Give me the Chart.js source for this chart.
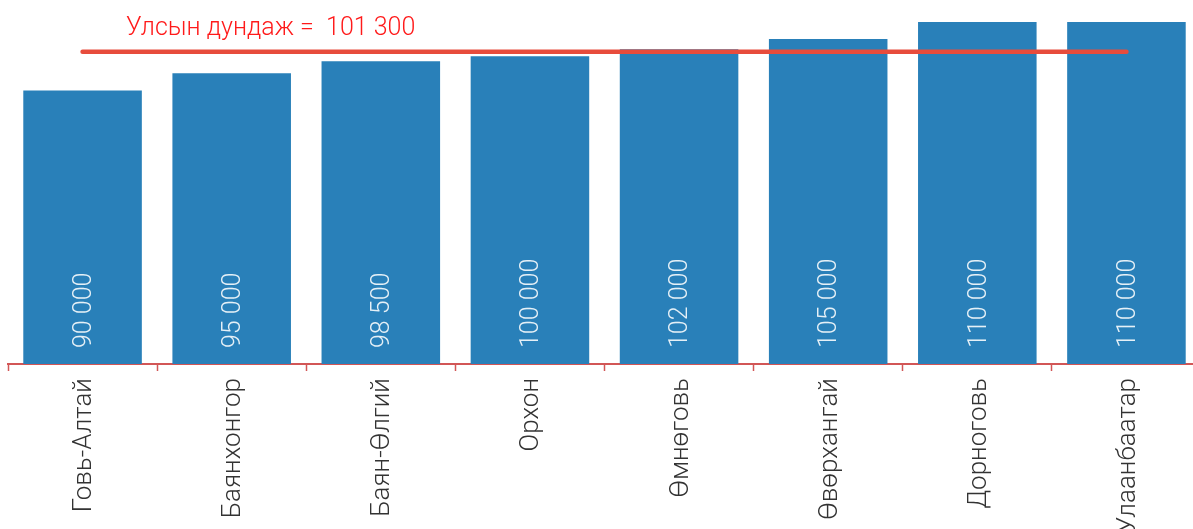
<!DOCTYPE html>
<html>
<head>
<meta charset="utf-8">
<script src="https://cdn.jsdelivr.net/npm/chart.js@4/dist/chart.umd.min.js"></script>
<style>
  html, body { margin: 0; padding: 0; background: #ffffff; overflow: hidden; }
  #wrap { position: relative; width: 1202px; height: 529px; }
</style>
</head>
<body>
<div id="wrap"><canvas id="c"></canvas></div>
<script>
// ---- data ----
const categories = ['Говь-Алтай', 'Баянхонгор', 'Баян-Өлгий', 'Орхон', 'Өмнөговь', 'Өвөрхангай', 'Дорноговь', 'Улаанбаатар'];
const salaryValues = [90000, 95000, 98500, 100000, 102000, 105000, 110000, 110000];
const nationalAverage = 101300;
const averageLabel = 'Улсын дундаж =  ';
const yMin = 10000;
const yMax = 110000;

function fmt(v) {
  return String(v).replace(/\B(?=(\d{3})+(?!\d))/g, ' ');
}

const averageLine = categories.map(() => nationalAverage);

const FONT = 'Roboto, "Noto Sans", sans-serif';

const valueLabelsPlugin = {
  id: 'valueLabels',
  afterDatasetsDraw(chart) {
    const meta = chart.getDatasetMeta(0);
    const ctx = chart.ctx;
    const bottom = chart.scales.y.getPixelForValue(yMin);
    ctx.save();
    ctx.font = '300 25px ' + FONT;
    ctx.fillStyle = 'rgba(255,255,255,0.88)';
    ctx.textAlign = 'left';
    ctx.textBaseline = 'middle';
    meta.data.forEach((bar, i) => {
      ctx.save();
      ctx.translate(bar.x + 2, bottom - 16);
      ctx.rotate(-Math.PI / 2);
      ctx.fillText(fmt(salaryValues[i]), 0, 0);
      ctx.restore();
    });
    ctx.restore();
  }
};

const averageTextPlugin = {
  id: 'averageText',
  afterDraw(chart) {
    const ctx = chart.ctx;
    const area = chart.chartArea;
    ctx.save();
    ctx.font = '300 25px ' + FONT;
    ctx.fillStyle = '#ff1a1a';
    ctx.textAlign = 'left';
    ctx.textBaseline = 'alphabetic';
    ctx.fillText(averageLabel + fmt(nationalAverage), area.left + 118, 34.5);
    ctx.restore();
  }
};

new Chart(document.getElementById('c'), {
  data: {
    labels: categories,
    datasets: [
      {
        type: 'bar',
        data: salaryValues,
        backgroundColor: '#2980b9',
        borderWidth: 0,
        barPercentage: 0.795,
        categoryPercentage: 1,
        order: 1
      },
      {
        type: 'line',
        data: averageLine,
        borderColor: '#e74c3c',
        borderWidth: 4.5,
        borderCapStyle: 'round',
        pointRadius: 0,
        fill: false,
        order: 0
      }
    ]
  },
  options: {
    responsive: true,
    maintainAspectRatio: false,
    animation: false,
    layout: { padding: { top: 22, left: 8, right: 1, bottom: 0 } },
    plugins: {
      legend: { display: false },
      tooltip: { enabled: false },
      title: { display: false }
    },
    scales: {
      x: {
        offset: true,
        border: { display: true, color: '#d25656', width: 2 },
        grid: {
          display: true,
          offset: true,
          drawOnChartArea: false,
          drawTicks: true,
          tickLength: 7,
          tickWidth: 1.5,
          tickColor: '#d25656'
        },
        ticks: {
          minRotation: 90,
          maxRotation: 90,
          autoSkip: false,
          padding: 7,
          labelOffset: 2,
          color: '#333333',
          font: { family: FONT, size: 26, weight: '300' }
        },
        afterFit(scale) { scale.height = 165; }
      },
      y: {
        display: false,
        min: yMin,
        max: yMax
      }
    }
  },
  plugins: [valueLabelsPlugin, averageTextPlugin]
});
</script>
</body>
</html>
